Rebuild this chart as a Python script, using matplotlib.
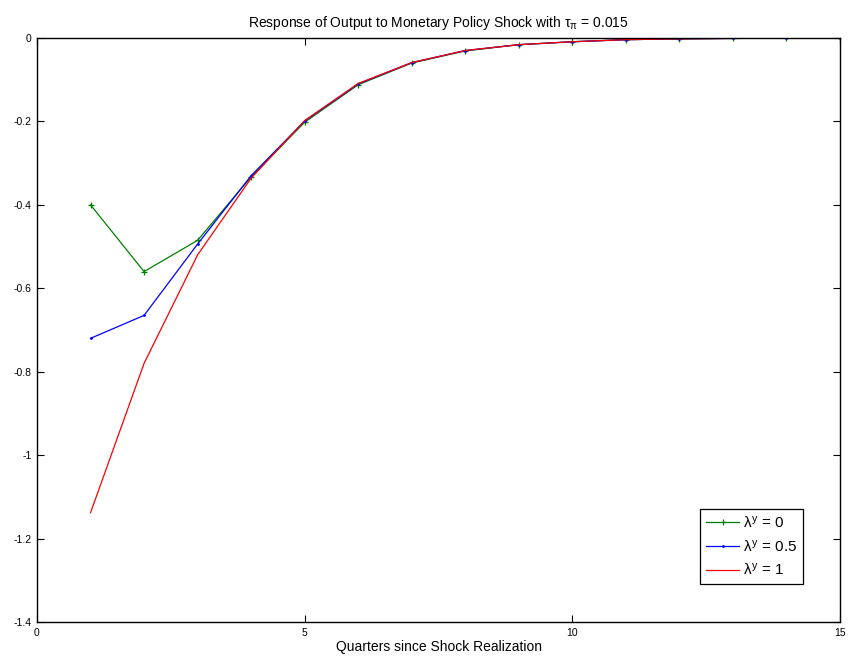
import matplotlib
matplotlib.use("Agg")
import matplotlib.pyplot as plt
from matplotlib.ticker import FuncFormatter

plt.rcParams['font.family'] = ['Liberation Sans', 'DejaVu Sans']
plt.rcParams['mathtext.fontset'] = 'custom'
plt.rcParams['mathtext.rm'] = 'Liberation Sans'
plt.rcParams['mathtext.it'] = 'Liberation Sans'
plt.rcParams['mathtext.sf'] = 'Liberation Sans'
plt.rcParams['axes.unicode_minus'] = False

quarters = [1, 2, 3, 4, 5, 6, 7, 8, 9, 10, 11, 12, 13, 14, 15]
y_lam0 = [-0.40, -0.56, -0.485, -0.333, -0.202, -0.112, -0.060, -0.031, -0.016, -0.009, -0.004, -0.002, -0.001, -0.0005, -0.0002]
y_lam05 = [-0.72, -0.665, -0.494, -0.330, -0.199, -0.110, -0.059, -0.030, -0.016, -0.009, -0.004, -0.002, -0.001, -0.0005, -0.0002]
y_lam1 = [-1.138, -0.78, -0.52, -0.336, -0.198, -0.109, -0.059, -0.030, -0.016, -0.009, -0.004, -0.002, -0.001, -0.0005, -0.0002]
labels = [r'$\lambda^y$ = 0', r'$\lambda^y$ = 0.5', r'$\lambda^y$ = 1']
xticks = [0, 5, 10, 15]
yticks = [0, -0.2, -0.4, -0.6, -0.8, -1.0, -1.2, -1.4]

fig = plt.figure(figsize=(8.48, 6.56), dpi=100)
ax = fig.add_axes([37/848, 34/656, 803/848, 584/656])

ax.plot(quarters, y_lam0, color=(0, 0.5, 0), marker='+', markersize=5, markeredgewidth=0.9, linewidth=0.9, label=labels[0])
ax.plot(quarters, y_lam05, color=(0, 0, 1), marker='.', markersize=2, linewidth=0.9, label=labels[1])
ax.plot(quarters, y_lam1, color=(1, 0, 0), linewidth=0.9, label=labels[2])

ax.set_xlim(0, 15)
ax.set_ylim(-1.4, 0)
ax.set_xticks(xticks)
ax.set_yticks(yticks)
ax.yaxis.set_major_formatter(FuncFormatter(lambda v, p: '%g' % round(v, 4)))
ax.tick_params(direction='in', top=True, right=True, length=5, width=0.8, labelsize=7.5, pad=4)
for s in ax.spines.values():
    s.set_linewidth(1.0)

ax.set_title(r'Response of Output to Monetary Policy Shock with $\tau_{\pi}$ = 0.015', fontsize=10, pad=8)
ax.set_xlabel('Quarters since Shock Realization', fontsize=10, labelpad=2)

leg = ax.legend(loc='lower right', bbox_to_anchor=(0.954, 0.065), borderaxespad=0,
                fancybox=False, edgecolor='black', framealpha=1, fontsize=11,
                handlelength=2.2, handletextpad=0.2, borderpad=0.4, labelspacing=0.5)
leg.get_frame().set_linewidth(0.9)

fig.savefig('out.png', dpi=100)
